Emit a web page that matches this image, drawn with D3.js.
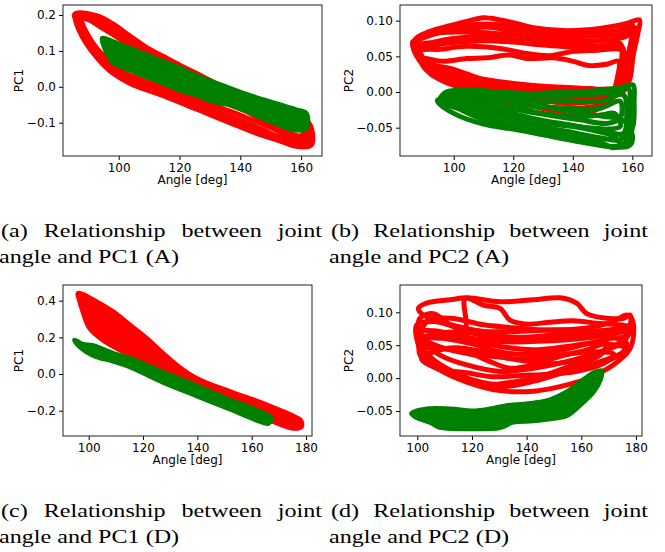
<!DOCTYPE html>
<meta charset="utf-8">
<title>Joint angle vs principal components</title>
<style>
  body { margin: 0; background: #fff; }
  .axis text { font: 12px "DejaVu Sans", sans-serif; fill: #000; }
  .axis line { stroke: #000; }
  .axis path { display: none; }
  .frame { fill: none; stroke: #222; stroke-width: 1; }
  .label { font: 12px "DejaVu Sans", sans-serif; fill: #000; }
  .caption { font: 19px "Liberation Serif", "Times New Roman", serif; fill: #000; }
  path.traj { fill: none; stroke-width: 5; stroke-linejoin: round; }
  path.traj.red { stroke: #ff0000; }
  path.traj.green { stroke: #008000; }
  path.traj.red.filled { fill: #ff0000; }
  path.traj.green.filled { fill: #008000; }
</style>
<body>
<script src="https://cdn.jsdelivr.net/npm/d3@7"></script>
<script>
// ---- tick values ----
var xTicksAB = [100, 120, 140, 160];
var xTicksCD = [100, 120, 140, 160, 180];
var yTicksA = [-0.1, 0.0, 0.1, 0.2];
var yTicksB = [-0.05, 0.00, 0.05, 0.10];
var yTicksC = [-0.2, 0.0, 0.2, 0.4];
var yTicksD = [-0.05, 0.00, 0.05, 0.10];

// ---- captions ----
var captionA = ["(a) Relationship between joint", "angle and PC1 (A)"];
var captionB = ["(b) Relationship between joint", "angle and PC2 (A)"];
var captionC = ["(c) Relationship between joint", "angle and PC1 (D)"];
var captionD = ["(d) Relationship between joint", "angle and PC2 (D)"];

// ---- trajectories [angle deg, PC value] ----
// (a) subject A, PC1
var aRed = [
  [[85.5,0.202],[92.7,0.198],[98.1,0.175],[103.6,0.142],[109.1,0.110],[114.6,0.085],[120.1,0.060],[125.5,0.038],[136.5,-0.010],[147.5,-0.048],[158.4,-0.080],[162.8,-0.104],[163.4,-0.162],[158.4,-0.166],[147.5,-0.129],[136.5,-0.092],[125.5,-0.055],[114.6,-0.018],[103.6,0.016],[98.1,0.047],[92.7,0.098],[88.3,0.154]],
  [[86.6,0.196],[92.7,0.186],[98.1,0.163],[103.6,0.130],[109.1,0.100],[114.6,0.075],[125.5,0.028],[136.5,-0.018],[147.5,-0.060],[158.4,-0.092],[161.7,-0.143],[152.9,-0.139],[142.0,-0.101],[131.0,-0.064],[120.1,-0.027],[109.1,0.010],[101.4,0.038],[94.9,0.075],[89.4,0.135]],
  [[87.2,0.200],[93.8,0.168],[101.4,0.128],[109.1,0.082],[116.8,0.055],[125.5,0.024],[136.5,-0.013],[147.5,-0.050],[158.4,-0.088],[160.6,-0.134],[152.9,-0.120],[142.0,-0.069],[131.0,-0.032],[120.1,0.005],[109.1,0.042],[101.4,0.061],[94.9,0.089],[90.5,0.135]],
  [[86.1,0.192],[92.7,0.178],[98.1,0.152],[103.6,0.120],[109.1,0.090],[114.6,0.066],[120.1,0.045],[125.5,0.025],[136.5,-0.022],[147.5,-0.060],[158.4,-0.097],[162.8,-0.152],[155.0,-0.150],[147.5,-0.120],[136.5,-0.083],[125.5,-0.046],[114.6,-0.009],[103.6,0.028],[96.0,0.066],[90.5,0.120]],
  [[87.0,0.198],[94.0,0.190],[103.6,0.138],[114.6,0.078],[125.5,0.030],[136.5,-0.015],[147.5,-0.055],[158.4,-0.090],[163.0,-0.120],[163.0,-0.150],[158.4,-0.160],[147.5,-0.136],[136.5,-0.100],[125.5,-0.062],[114.6,-0.025],[103.6,0.010],[97.0,0.045],[92.0,0.090],[88.0,0.140],[85.8,0.190]],
  [[88.0,0.195],[95.0,0.175],[103.6,0.125],[114.6,0.070],[125.5,0.025],[136.5,-0.015],[147.5,-0.055],[158.4,-0.090],[162.0,-0.125],[158.4,-0.140],[147.5,-0.105],[136.5,-0.068],[125.5,-0.035],[114.6,-0.002],[103.6,0.032],[97.0,0.062],[92.0,0.105]]
];
var aGreen = [
  [[94.6,0.135],[98.1,0.126],[103.6,0.107],[109.1,0.089],[114.6,0.070],[120.1,0.052],[125.5,0.031],[131.0,0.013],[136.5,-0.004],[142.0,-0.021],[147.5,-0.036],[152.9,-0.050],[158.4,-0.064],[161.7,-0.074],[161.7,-0.115],[157.3,-0.120],[152.9,-0.106],[147.5,-0.088],[142.0,-0.067],[136.5,-0.050],[131.0,-0.041],[125.5,-0.023],[120.1,-0.009],[114.6,0.010],[109.1,0.028],[103.6,0.047],[98.1,0.068],[95.9,0.098]]
];

// (b) subject A, PC2
var bRed = [
  [[87.0,0.073],[92.0,0.085],[98.8,0.093],[104.4,0.099],[110.0,0.104],[115.6,0.101],[121.1,0.096],[126.7,0.090],[138.0,0.086],[149.1,0.089],[158.1,0.096],[162.4,0.101],[162.0,0.085],[160.3,0.052],[159.2,0.019],[157.0,0.001],[149.1,-0.006],[138.0,-0.009],[126.7,-0.006],[115.6,0.000],[104.4,0.012],[96.5,0.026],[91.0,0.036],[87.6,0.052]],
  [[86.2,0.070],[91.0,0.078],[97.6,0.085],[104.4,0.088],[111.1,0.091],[117.8,0.087],[126.7,0.081],[138.0,0.078],[149.1,0.079],[155.9,0.081],[160.3,0.088],[159.2,0.061],[158.1,0.029],[155.9,0.003],[149.1,-0.018],[138.0,-0.023],[126.7,-0.018],[115.6,-0.011],[104.4,0.003],[96.5,0.015],[92.0,0.026],[88.7,0.043]],
  [[87.6,0.064],[93.2,0.070],[99.9,0.075],[107.7,0.078],[115.6,0.075],[126.7,0.071],[138.0,0.067],[149.1,0.065],[155.9,0.068],[156.4,0.043],[155.3,0.008],[149.1,-0.002],[138.0,-0.003],[126.7,0.000],[115.6,0.005],[104.4,0.017],[95.4,0.031],[89.8,0.040]],
  [[88.7,0.057],[95.4,0.060],[104.4,0.064],[115.6,0.061],[124.5,0.054],[132.3,0.051],[140.2,0.057],[149.1,0.059],[156.8,0.062],[155.9,0.029],[154.7,0.001],[146.9,-0.027],[135.7,-0.027],[124.5,-0.018],[113.3,-0.004],[102.1,0.010],[94.3,0.024],[90.4,0.033]],
  [[89.8,0.047],[96.5,0.043],[104.4,0.047],[111.1,0.048],[118.9,0.052],[124.5,0.047],[133.5,0.048],[140.2,0.043],[145.8,0.037],[151.4,0.039],[155.3,0.043],[154.7,0.015],[153.6,0.003],[144.7,0.005],[135.7,0.002],[126.7,0.003],[115.6,0.009],[106.6,0.022],[98.8,0.033],[93.2,0.038]],
  [[86.5,0.066],[92.0,0.080],[100.0,0.090],[108.0,0.095],[116.0,0.094],[124.0,0.088],[132.0,0.083],[140.0,0.082],[148.0,0.084],[155.0,0.086],[160.0,0.094],[159.5,0.070],[158.0,0.040],[156.5,0.010],[150.0,-0.010],[140.0,-0.015],[130.0,-0.012],[120.0,-0.006],[110.0,0.004],[100.0,0.018],[93.0,0.030],[88.5,0.045]],
  [[87.5,0.058],[94.0,0.066],[102.0,0.070],[110.0,0.072],[120.0,0.070],[130.0,0.066],[140.0,0.063],[150.0,0.060],[157.0,0.058],[157.5,0.030],[156.0,0.000],[148.0,-0.012],[138.0,-0.016],[128.0,-0.010],[118.0,-0.004],[108.0,0.008],[98.0,0.022],[91.0,0.038]],
  [[88.0,0.076],[95.0,0.083],[104.0,0.084],[114.0,0.082],[124.0,0.078],[134.0,0.074],[144.0,0.072],[152.0,0.073],[158.0,0.078],[161.0,0.090],[160.5,0.060],[159.0,0.030],[157.5,0.008],[150.0,0.004],[140.0,0.006],[130.0,0.008],[120.0,0.012],[110.0,0.018],[100.0,0.026],[92.0,0.034]]
];
var bGreen = [
  [[95.4,-0.011],[104.4,-0.027],[115.6,-0.041],[126.7,-0.052],[138.0,-0.061],[149.1,-0.070],[153.6,-0.078],[158.1,-0.069],[160.3,-0.046],[160.6,-0.013],[160.3,0.010],[158.1,0.008],[149.1,0.002],[138.0,0.000],[126.7,-0.002],[115.6,0.000],[104.4,0.003],[97.6,0.000]],
  [[95.9,-0.009],[104.4,-0.020],[115.6,-0.034],[126.7,-0.046],[138.0,-0.055],[149.1,-0.064],[155.9,-0.067],[159.2,-0.051],[159.2,-0.018],[158.7,0.005],[153.6,0.000],[142.4,-0.005],[131.2,-0.006],[120.0,-0.006],[108.8,-0.003],[99.9,-0.002]],
  [[96.5,-0.006],[106.6,-0.018],[117.8,-0.028],[129.0,-0.039],[140.2,-0.047],[150.3,-0.055],[157.0,-0.058],[158.1,-0.032],[157.0,-0.004],[149.1,-0.013],[138.0,-0.013],[126.7,-0.013],[115.6,-0.010],[104.4,-0.006]],
  [[97.6,-0.009],[108.8,-0.016],[120.0,-0.024],[131.2,-0.032],[142.4,-0.039],[151.4,-0.044],[155.9,-0.037],[155.9,-0.013],[149.1,-0.023],[138.0,-0.023],[126.7,-0.020],[115.6,-0.018],[104.4,-0.014]],
  [[99.9,-0.018],[111.1,-0.027],[122.3,-0.037],[133.5,-0.044],[144.7,-0.052],[153.6,-0.062],[155.9,-0.074],[151.4,-0.076],[142.4,-0.067],[131.2,-0.058],[120.0,-0.048],[108.8,-0.037]],
  [[97.0,-0.014],[105.0,-0.024],[115.0,-0.033],[125.0,-0.040],[135.0,-0.046],[145.0,-0.050],[152.0,-0.052],[156.0,-0.048],[154.0,-0.030],[150.0,-0.032],[140.0,-0.035],[130.0,-0.030],[120.0,-0.022],[110.0,-0.012],[100.0,-0.006]],
  [[94.5,-0.012],[100.0,-0.010],[110.0,-0.010],[120.0,-0.012],[130.0,-0.020],[140.0,-0.028],[150.0,-0.034],[157.0,-0.040],[160.0,-0.060],[159.0,-0.075],[150.0,-0.075],[140.0,-0.068],[130.0,-0.060],[120.0,-0.052],[110.0,-0.045],[100.0,-0.030]]
];

// (c) subject D, PC1
var cRed = [
  [[96.1,0.440],[102.8,0.395],[108.9,0.340],[115.1,0.267],[121.2,0.195],[127.3,0.113],[132.3,0.049],[139.6,-0.024],[151.9,-0.096],[164.1,-0.160],[173.9,-0.224],[177.9,-0.251],[178.3,-0.287],[175.2,-0.296],[166.6,-0.251],[158.0,-0.196],[147.0,-0.124],[137.2,-0.051],[127.3,0.022],[115.1,0.104],[105.3,0.185],[100.4,0.249],[97.9,0.340],[96.4,0.413]],
  [[97.3,0.431],[104.0,0.367],[111.4,0.295],[118.8,0.213],[126.1,0.122],[132.3,0.040],[142.1,-0.042],[154.3,-0.115],[166.6,-0.178],[176.4,-0.242],[177.0,-0.278],[169.1,-0.260],[159.2,-0.202],[148.2,-0.133],[138.4,-0.060],[128.6,0.009],[117.5,0.095],[107.7,0.167],[102.2,0.231],[99.1,0.322]],
  [[97.9,0.413],[105.3,0.340],[112.6,0.258],[120.0,0.176],[127.3,0.095],[134.7,0.013],[143.3,-0.060],[155.6,-0.129],[167.8,-0.202],[175.2,-0.260],[166.6,-0.233],[154.3,-0.160],[142.1,-0.087],[131.0,-0.005],[120.0,0.085],[110.2,0.149],[104.0,0.213],[100.4,0.304]]
];
var cGreen = [
  [[94.8,0.185],[97.9,0.162],[101.6,0.155],[108.9,0.113],[115.1,0.085],[127.3,0.009],[139.6,-0.064],[151.9,-0.142],[161.7,-0.196],[167.2,-0.242],[166.0,-0.269],[161.7,-0.251],[151.9,-0.191],[139.6,-0.118],[127.3,-0.045],[115.1,0.040],[108.9,0.071],[102.8,0.095],[99.1,0.122],[96.1,0.158]]
];

// (d) subject D, PC2
var dRed = [
  [[103.4,0.114],[112.0,0.119],[118.1,0.122],[130.3,0.116],[142.5,0.119],[152.2,0.122],[158.3,0.114],[162.0,0.098],[169.3,0.091],[175.4,0.091],[177.8,0.096],[177.8,0.081],[174.2,0.071],[166.9,0.065],[154.7,0.065],[142.5,0.060],[130.3,0.060],[118.1,0.071],[108.3,0.086],[102.2,0.096],[100.4,0.106]],
  [[101.0,0.091],[105.9,0.098],[112.0,0.081],[117.5,0.076],[117.5,0.121],[124.2,0.111],[130.3,0.106],[133.9,0.088],[140.0,0.082],[148.6,0.085],[157.1,0.087],[166.9,0.083],[174.2,0.081],[177.8,0.076],[175.4,0.055],[166.9,0.040],[154.7,0.025],[142.5,0.015],[130.3,0.010],[118.1,0.020],[108.3,0.035],[102.2,0.055],[100.4,0.076]],
  [[99.8,0.081],[105.9,0.086],[112.0,0.081],[124.2,0.071],[136.4,0.071],[148.6,0.073],[160.7,0.071],[169.3,0.065],[176.6,0.053],[175.4,0.040],[166.9,0.025],[154.7,0.010],[142.5,-0.005],[130.3,-0.013],[118.1,-0.001],[108.3,0.020],[102.2,0.040],[99.8,0.060]],
  [[100.4,0.060],[107.1,0.065],[118.1,0.058],[130.3,0.048],[142.5,0.043],[154.7,0.048],[164.4,0.053],[172.9,0.050],[176.6,0.045],[171.7,0.030],[160.7,0.017],[148.6,0.005],[136.4,-0.005],[124.2,-0.010],[112.0,0.005],[104.6,0.025],[101.0,0.043]],
  [[102.2,0.050],[109.5,0.045],[118.1,0.040],[126.6,0.025],[133.9,0.015],[142.5,0.020],[152.2,0.033],[162.0,0.043],[169.3,0.053],[166.9,0.035],[157.1,0.020],[144.9,0.002],[132.7,-0.010],[120.5,-0.003],[110.7,0.015],[104.6,0.033]],
  [[101.0,0.035],[108.3,0.012],[118.1,-0.006],[130.3,-0.019],[142.5,-0.020],[152.2,-0.013],[162.0,-0.001],[171.7,0.020],[177.6,0.043],[179.1,0.065],[178.4,0.091],[176.6,0.096],[171.7,0.086],[162.0,0.076],[148.6,0.073],[136.4,0.076],[124.2,0.081],[112.0,0.091],[103.4,0.086],[101.0,0.060]],
  [[100.5,0.070],[106.0,0.072],[114.0,0.066],[124.0,0.058],[134.0,0.055],[144.0,0.056],[154.0,0.058],[164.0,0.062],[172.0,0.068],[177.0,0.070],[176.0,0.060],[170.0,0.045],[160.0,0.030],[150.0,0.022],[140.0,0.026],[130.0,0.032],[120.0,0.036],[110.0,0.045],[103.0,0.058]],
  [[101.5,0.030],[106.0,0.040],[114.0,0.046],[124.0,0.040],[134.0,0.030],[144.0,0.030],[154.0,0.036],[164.0,0.040],[172.0,0.036],[168.0,0.022],[158.0,0.010],[148.0,0.006],[138.0,0.004],[128.0,0.002],[118.0,0.008],[108.0,0.014]],
  [[104.0,0.062],[110.0,0.060],[120.0,0.052],[130.0,0.040],[140.0,0.036],[150.0,0.040],[160.0,0.050],[170.0,0.060],[176.0,0.064],[178.0,0.080],[174.0,0.075],[166.0,0.072],[156.0,0.070],[146.0,0.064],[136.0,0.062],[126.0,0.066],[116.0,0.070],[108.0,0.068]]
];
var dGreen = [
  [[97.9,-0.054],[103.4,-0.047],[112.0,-0.047],[120.5,-0.050],[126.6,-0.047],[132.7,-0.042],[142.5,-0.038],[148.6,-0.033],[154.7,-0.021],[160.7,-0.003],[165.0,0.009],[167.5,0.011],[166.9,-0.003],[164.4,-0.021],[159.5,-0.041],[154.7,-0.057],[148.6,-0.062],[142.5,-0.065],[135.1,-0.067],[130.3,-0.075],[118.1,-0.077],[108.3,-0.075],[104.6,-0.067],[99.8,-0.060]]
];

var panels = [
  { box: [63, 5, 322, 156], xd: [81.68, 166.88], yd: [-0.1928, 0.2279], xt: xTicksAB, yt: yTicksA, yf: ".1f",
    ylab: "PC1", labX: 23, red: aRed, green: aGreen, fillRed: false, fillGreen: true, cap: captionA, capX: 0, capY: 237, capW: 322 },
  { box: [400, 5, 652, 156], xd: [81.96, 166.61], yd: [-0.0897, 0.1220], xt: xTicksAB, yt: yTicksB, yf: ".2f",
    ylab: "PC2", labX: 353, red: bRed, green: bGreen, fillRed: false, fillGreen: false, cap: captionB, capX: 330, capY: 237, capW: 318 },
  { box: [63, 285, 312, 436], xd: [90.54, 182.19], yd: [-0.3382, 0.4855], xt: xTicksCD, yt: yTicksC, yf: ".1f",
    ylab: "PC1", labX: 23, red: cRed, green: cGreen, fillRed: true, fillGreen: true, cap: captionC, capX: 0, capY: 517, capW: 322 },
  { box: [400, 285, 642, 436], xd: [93.67, 182.22], yd: [-0.0880, 0.1415], xt: xTicksCD, yt: yTicksD, yf: ".2f",
    ylab: "PC2", labX: 353, red: dRed, green: dGreen, fillRed: false, fillGreen: true, cap: captionD, capX: 330, capY: 517, capW: 318 }
];

var svg = d3.select("body").append("svg")
    .attr("width", 665)
    .attr("height", 552)
    .style("display", "block");

var capScale = 1.27;

panels.forEach(function(p, i) {
  var x0 = p.box[0], y0 = p.box[1], x1 = p.box[2], y1 = p.box[3];
  var x = d3.scaleLinear().domain(p.xd).range([x0, x1]);
  var y = d3.scaleLinear().domain(p.yd).range([y1, y0]);

  var line = d3.line()
      .x(function(d) { return x(d[0]); })
      .y(function(d) { return y(d[1]); })
      .curve(d3.curveCatmullRomClosed.alpha(0.5));

  var g = svg.append("g");

  svg.append("clipPath").attr("id", "clip" + i)
    .append("rect").attr("x", x0).attr("y", y0).attr("width", x1 - x0).attr("height", y1 - y0);

  var plot = g.append("g").attr("clip-path", "url(#clip" + i + ")");

  plot.selectAll("path.red").data(p.red).enter().append("path")
      .attr("class", function(d, k) { return "traj red" + (p.fillRed && k === 0 ? " filled" : ""); })
      .attr("d", line);

  plot.selectAll("path.green").data(p.green).enter().append("path")
      .attr("class", function(d, k) { return "traj green" + (p.fillGreen && k === 0 ? " filled" : ""); })
      .attr("d", line);

  g.append("g")
      .attr("class", "axis")
      .attr("transform", "translate(0," + y1 + ")")
      .call(d3.axisBottom(x).tickValues(p.xt).tickFormat(d3.format("d")).tickSize(4).tickPadding(3));

  g.append("g")
      .attr("class", "axis")
      .attr("transform", "translate(" + x0 + ",0)")
      .call(d3.axisLeft(y).tickValues(p.yt).tickFormat(d3.format(p.yf)).tickSize(4).tickPadding(3));

  g.append("rect")
      .attr("class", "frame")
      .attr("x", x0).attr("y", y0)
      .attr("width", x1 - x0).attr("height", y1 - y0);

  g.append("text")
      .attr("class", "label")
      .attr("text-anchor", "middle")
      .attr("x", (x0 + x1) / 2)
      .attr("y", y1 + 28)
      .text("Angle [deg]");

  g.append("text")
      .attr("class", "label")
      .attr("text-anchor", "middle")
      .attr("transform", "translate(" + p.labX + "," + ((y0 + y1) / 2) + ") rotate(-90)")
      .text(p.ylab);

  // caption: first line justified, second line left aligned
  p.cap.forEach(function(t, k) {
    var txt = svg.append("text")
        .attr("class", "caption")
        .attr("transform", "translate(" + (p.capX + (k ? -1 : 1)) + "," + (p.capY + k * 26) + ") scale(" + capScale + ",1)")
        .text(t);
    if (k === 0) {
      var natural = txt.node().getComputedTextLength();
      var gaps = t.split(" ").length - 1;
      txt.style("word-spacing", ((p.capW - 1) / capScale - natural) / gaps + "px");
    }
  });
});
</script>
</body>
